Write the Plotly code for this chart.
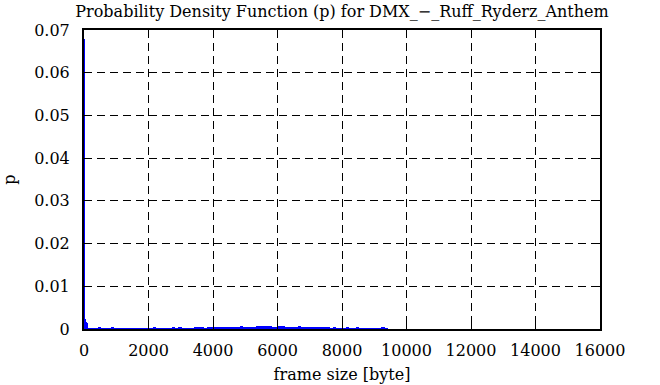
import plotly.graph_objects as go

# Histogram bins: left edge (byte), width (byte), probability p
fine_start = [0, 31, 62, 93]
fine_width = [31, 31, 31, 31]
fine_p = [0.068, 0.0023, 0.0016, 0.0013]

coarse_first = 124
coarse_width = 100
coarse_p_e4 = [
    2, 1, 1, 3, 1, 1, 1, 3, 1, 1,
    1, 0.5, 1, 1, 1, 0.5, 1, 1, 0.5, 1,
    3, 1, 1, 1, 1, 1.5, 3, 2, 3, 1.5,
    2, 1.5, 2, 3, 3, 3, 2, 3, 3, 3,
    3, 3, 3, 3, 5, 3.5, 4, 6, 4, 5,
    4.5, 5, 7, 7, 6.5, 7, 7, 5, 4, 7,
    6, 5, 4, 4, 5, 6.5, 3, 3, 3, 3,
    3, 3, 3, 3, 3, 2, 2.5, 2, 0.5, 1,
    2.5, 1, 1, 2.5, 0.5, 0.5, 0.5, 0.5, 0.5, 0.5,
    0.5, 2.5, 0.5,
]

x_ticks = [0, 2000, 4000, 6000, 8000, 10000, 12000, 14000, 16000]
y_ticks = [0, 0.01, 0.02, 0.03, 0.04, 0.05, 0.06, 0.07]
y_tick_text = ["0", "0.01", "0.02", "0.03", "0.04", "0.05", "0.06", "0.07"]

starts = fine_start + [coarse_first + i * coarse_width for i in range(len(coarse_p_e4))]
widths = fine_width + [coarse_width] * len(coarse_p_e4)
probs = fine_p + [v * 1e-4 for v in coarse_p_e4]
centers = [s + w / 2 for s, w in zip(starts, widths)]

fig = go.Figure(go.Bar(
    x=centers, y=probs, width=widths,
    marker=dict(color="#0000ff", line=dict(width=0)),
))

font = "DejaVu Serif"
axis_common = dict(
    showline=True, linecolor="black", linewidth=2, mirror="allticks",
    ticks="inside", ticklen=8, tickcolor="black", tickwidth=1,
    showgrid=True, gridcolor="black", gridwidth=1, griddash="8px,5px",
    zeroline=False, automargin=False,
    tickfont=dict(family=font, size=16, color="black"),
)

fig.update_layout(
    width=660, height=385,
    margin=dict(l=84, r=60, t=30, b=56),
    paper_bgcolor="white", plot_bgcolor="white",
    bargap=0, showlegend=False,
    font=dict(family=font, size=16, color="black"),
    title=dict(text="Probability Density Function (p) for DMX_−_Ruff_Ryderz_Anthem",
               x=(84 + 600) / 2 / 660, xanchor="center", y=1 - 11 / 385, yanchor="middle",
               font=dict(family=font, size=16, color="black")),
    xaxis=dict(range=[0, 16000], tickvals=x_ticks, ticktext=[str(v) for v in x_ticks],
               title=dict(text="frame size [byte]", font=dict(family=font, size=16, color="black"), standoff=10),
               ticklabelstandoff=6,
               **axis_common),
    yaxis=dict(range=[0, 0.07], tickvals=y_ticks, ticktext=y_tick_text,
               title=dict(text="p", font=dict(family=font, size=16, color="black"), standoff=16),
               ticklabelstandoff=9,
               **axis_common),
)

fig.write_html("out.html")
